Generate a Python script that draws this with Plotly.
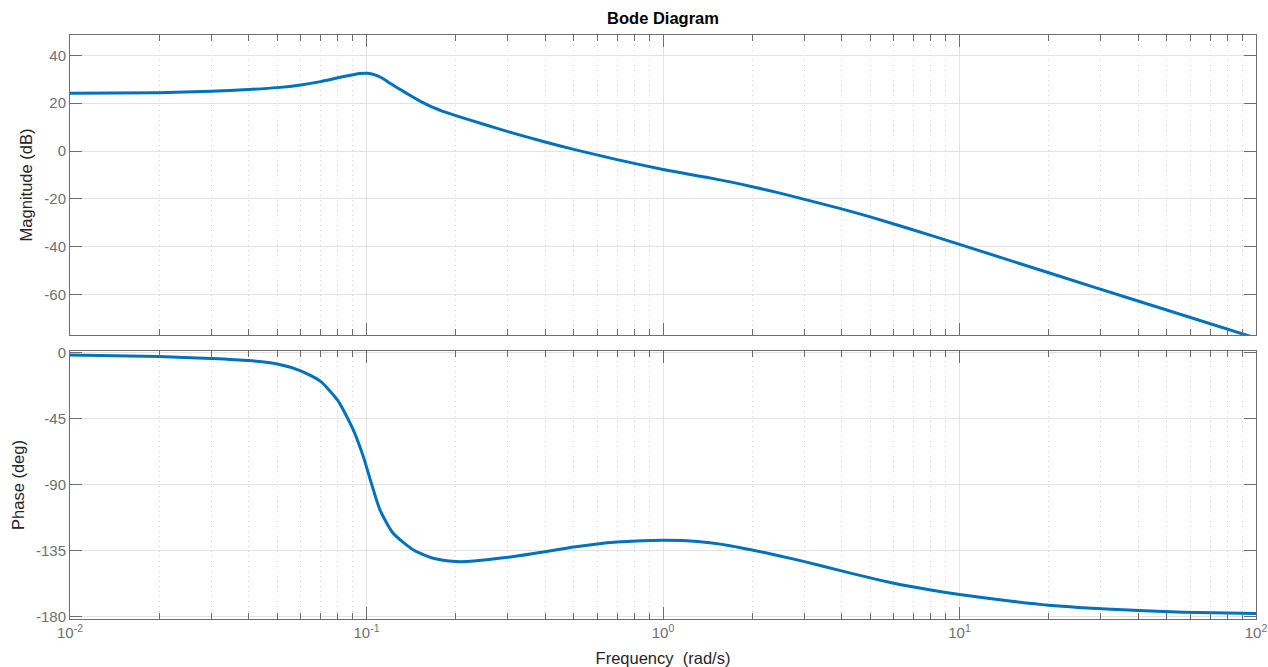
import plotly.graph_objects as go

# ---- data ----
mag_freq = [0.01, 0.02, 0.03, 0.04, 0.05, 0.06, 0.07, 0.08, 0.09, 0.095, 0.1, 0.105,
            0.11, 0.115, 0.12, 0.13, 0.14, 0.15, 0.16, 0.17, 0.18, 0.2, 0.25, 0.3, 0.4, 0.5,
            0.7, 1.0, 1.4, 1.7, 2.0, 2.5, 3.0, 4.0, 5.0, 7.0, 10.0, 20.0, 40.0, 100.0]
mag_db = [24.1, 24.4, 25.0, 25.7, 26.5, 27.6, 29.0, 30.6, 31.9, 32.4, 32.5, 32.1,
          31.2, 29.9, 28.3, 25.7, 23.3, 21.2, 19.4, 17.9, 16.7, 14.8, 11.1, 8.1, 3.8, 0.7,
          -3.6, -7.7, -11.0, -13.0, -14.9, -17.7, -20.2, -24.2, -27.5, -33.0, -39.0, -50.9, -62.7, -78.2]

ph_freq = [0.01, 0.02, 0.03, 0.04, 0.05, 0.06, 0.07, 0.08, 0.09, 0.0975, 0.103, 0.111,
           0.123, 0.144, 0.168, 0.2, 0.218, 0.3, 0.4, 0.5, 0.6, 0.7, 0.815, 1.0, 1.2, 1.44,
           1.7, 2.0, 2.5, 3.0, 4.0, 5.0, 6.0, 8.0, 10.0, 15.0, 20.0, 34.0, 57.0, 100.0]
ph_deg = [-1.5, -2.6, -3.9, -5.3, -7.6, -12.3, -19.5, -32.5, -52.0, -70.6, -86.5, -107.0,
          -123.0, -134.4, -140.0, -142.3, -142.3, -139.4, -135.6, -132.4, -130.3, -129.0, -128.2, -127.8, -128.1, -129.5,
          -131.6, -134.4, -138.6, -142.3, -148.6, -153.4, -157.0, -161.6, -164.7, -169.3, -172.0, -175.0, -176.8, -177.7]

x_tickvals = [0.01, 0.1, 1, 10, 100]
x_ticktext = ["10<sup>-2</sup>", "10<sup>-1</sup>", "10<sup>0</sup>", "10<sup>1</sup>", "10<sup>2</sup>"]
mag_tickvals = [40, 20, 0, -20, -40, -60]
mag_ticktext = ["40", "20", "0", "-20", "-40", "-60"]
ph_tickvals = [0, -45, -90, -135, -180]
ph_ticktext = ["0", "-45", "-90", "-135", "-180"]

minor_vals = [m * 10.0 ** e for e in range(-2, 2) for m in range(2, 10)]

LINE = "#0072BD"
AXC = "#6e6e6e"
GRID = "#e3e3e3"
FAM = "Liberation Sans, Arial, sans-serif"
TICKFONT = dict(family=FAM, size=15, color="#707070")
LABELFONT = dict(family=FAM, size=16.5, color="#262626")

fig = go.Figure()
fig.add_trace(go.Scatter(x=mag_freq, y=mag_db, mode="lines", xaxis="x", yaxis="y",
                         line=dict(color=LINE, width=3, shape="spline", smoothing=0.6),
                         showlegend=False, hoverinfo="x+y"))
fig.add_trace(go.Scatter(x=ph_freq, y=ph_deg, mode="lines", xaxis="x2", yaxis="y2",
                         line=dict(color=LINE, width=3, shape="spline", smoothing=0.6),
                         showlegend=False, hoverinfo="x+y"))

def xax(show_labels, anchor):
    return dict(type="log", range=[-2, 2], anchor=anchor, domain=[0, 1], automargin=False,
                showline=True, linecolor=AXC, linewidth=1, mirror="ticks",
                ticks="inside", ticklen=12, tickcolor=AXC, tickwidth=1,
                tickvals=x_tickvals, ticktext=x_ticktext, showticklabels=show_labels,
                tickfont=TICKFONT, showgrid=True, gridcolor=GRID, gridwidth=1,
                zeroline=False,
                minor=dict(tickvals=minor_vals, ticks="inside", ticklen=6, tickcolor=AXC,
                           showgrid=True, gridcolor="#d4d4d4", griddash="1px,4px", gridwidth=1))

def yax(rng, tv, tt, domain, anchor, title):
    return dict(range=rng, domain=domain, anchor=anchor, automargin=False,
                showline=True, linecolor=AXC, linewidth=1, mirror="ticks",
                ticks="inside", ticklen=12, tickcolor=AXC, tickwidth=1,
                tickvals=tv, ticktext=tt, tickfont=TICKFONT,
                showgrid=True, gridcolor=GRID, gridwidth=1, zeroline=False,
                title=dict(text=title, font=LABELFONT, standoff=7))

xa1 = xax(False, "y")
xa2 = xax(True, "y2")
xa2["title"] = dict(text="Frequency  (rad/s)", font=LABELFONT, standoff=12)

fig.update_layout(
    width=1268, height=667,
    margin=dict(l=70, r=12, t=35, b=48),
    paper_bgcolor="white", plot_bgcolor="white",
    title=dict(text="<b>Bode Diagram</b>", x=0.5, xref="paper", y=1 - 18 / 667,
               yref="container", yanchor="middle", xanchor="center",
               font=dict(family=FAM, size=16.5, color="black")),
    xaxis=xa1,
    xaxis2=xa2,
    yaxis=yax([-76.9, 48.5], mag_tickvals, mag_ticktext, [0.4863, 1.0], "x", "Magnitude (dB)"),
    yaxis2=yax([-181.4, 1.2], ph_tickvals, ph_ticktext, [0.0, 0.4589], "x2", "Phase (deg)"),
    showlegend=False,
)

fig.write_html("out.html", config={"displayModeBar": False},
               post_script="document.body.style.margin='0';document.body.style.overflow='hidden';")
